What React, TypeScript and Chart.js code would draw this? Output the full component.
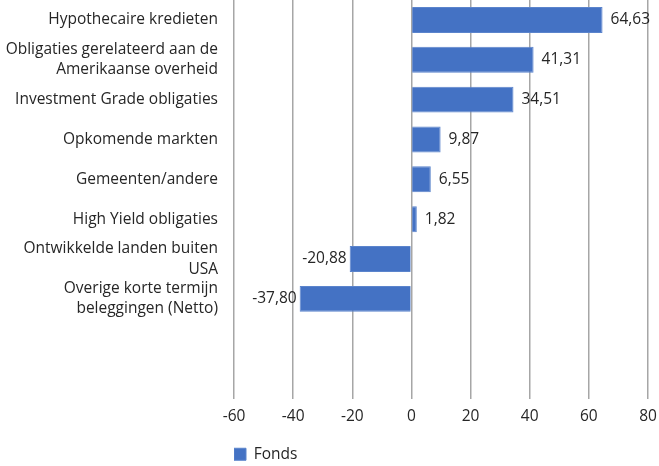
import React, { useEffect, useRef } from "react";
import { Chart, registerables } from "chart.js";

Chart.register(...registerables);

const categories: (string | string[])[] = [
  "Hypothecaire kredieten",
  ["Obligaties gerelateerd aan de", "Amerikaanse overheid"],
  "Investment Grade obligaties",
  "Opkomende markten",
  "Gemeenten/andere",
  "High Yield obligaties",
  ["Ontwikkelde landen buiten", "USA"],
  ["Overige korte termijn", "beleggingen (Netto)"],
  "",
  "",
];
const fondsValues: (number | null)[] = [64.63, 41.31, 34.51, 9.87, 6.55, 1.82, -20.88, -37.8, null, null];
const seriesName = "Fonds";
const xMin = -60;
const xMax = 80;
const xStep = 20;

const FONT = "'Open Sans', sans-serif";
const TEXT = "#262626";
const FS = 15.5;

const valueLabels = {
  id: "valueLabels",
  afterDatasetsDraw(chart: any) {
    const ctx = chart.ctx;
    const meta = chart.getDatasetMeta(0);
    ctx.save();
    ctx.font = `${FS}px ${FONT}`;
    ctx.fillStyle = TEXT;
    ctx.textBaseline = "middle";
    meta.data.forEach((bar: any, i: number) => {
      const v = fondsValues[i];
      if (v === null || v === undefined) return;
      const txt = v.toFixed(2).replace(".", ",");
      if (v >= 0) {
        ctx.textAlign = "left";
        ctx.fillText(txt, bar.x + 8, bar.y);
      } else {
        ctx.textAlign = "right";
        ctx.fillText(txt, bar.x - 3, bar.y);
      }
    });
    ctx.restore();
  },
};

export default function App() {
  const ref = useRef<HTMLCanvasElement>(null);
  useEffect(() => {
    if (!ref.current) return;
    const chart = new Chart(ref.current, {
      type: "bar",
      data: {
        labels: categories,
        datasets: [
          {
            label: seriesName,
            data: fondsValues,
            backgroundColor: "#4472C4",
            borderColor: "#5B84CC",
            borderWidth: 1,
            barPercentage: 0.65,
            categoryPercentage: 1,
          },
        ],
      },
      options: {
        indexAxis: "y",
        animation: false,
        responsive: false,
        layout: { padding: { top: 0, right: 11, bottom: -6, left: 0 } },
        plugins: {
          legend: {
            position: "bottom",
            align: "start",
            fullSize: false,
            labels: {
              boxWidth: 12,
              boxHeight: 12,
              padding: 0,
              color: TEXT,
              font: { family: FONT, size: FS },
            },
          },
          tooltip: { enabled: false },
        },
        scales: {
          x: {
            min: xMin,
            max: xMax,
            ticks: {
              stepSize: xStep,
              color: TEXT,
              font: { family: FONT, size: FS },
              padding: 9,
            },
            grid: { color: "#a6a6a6", lineWidth: 1.5, drawTicks: false },
            border: { display: false },
            afterFit: (s: any) => {
              s.height = 48;
              s.paddingLeft = 0;
              s.paddingRight = 0;
            },
          },
          y: {
            ticks: {
              color: TEXT,
              font: { family: FONT, size: FS, lineHeight: 1.3 },
              padding: 16,
              autoSkip: false,
            },
            grid: { display: false, drawTicks: false },
            border: { display: false },
            afterFit: (s: any) => {
              s.width = 234;
              s.paddingTop = 0;
              s.paddingBottom = 0;
            },
          },
        },
      },
      plugins: [valueLabels],
    });
    return () => chart.destroy();
  }, []);
  return (
    <div style={{ position: "fixed", left: 0, top: 0, width: 659, height: 466, background: "#fff" }}>
      <canvas ref={ref} width={659} height={466} style={{ width: 659, height: 466 }} />
    </div>
  );
}
